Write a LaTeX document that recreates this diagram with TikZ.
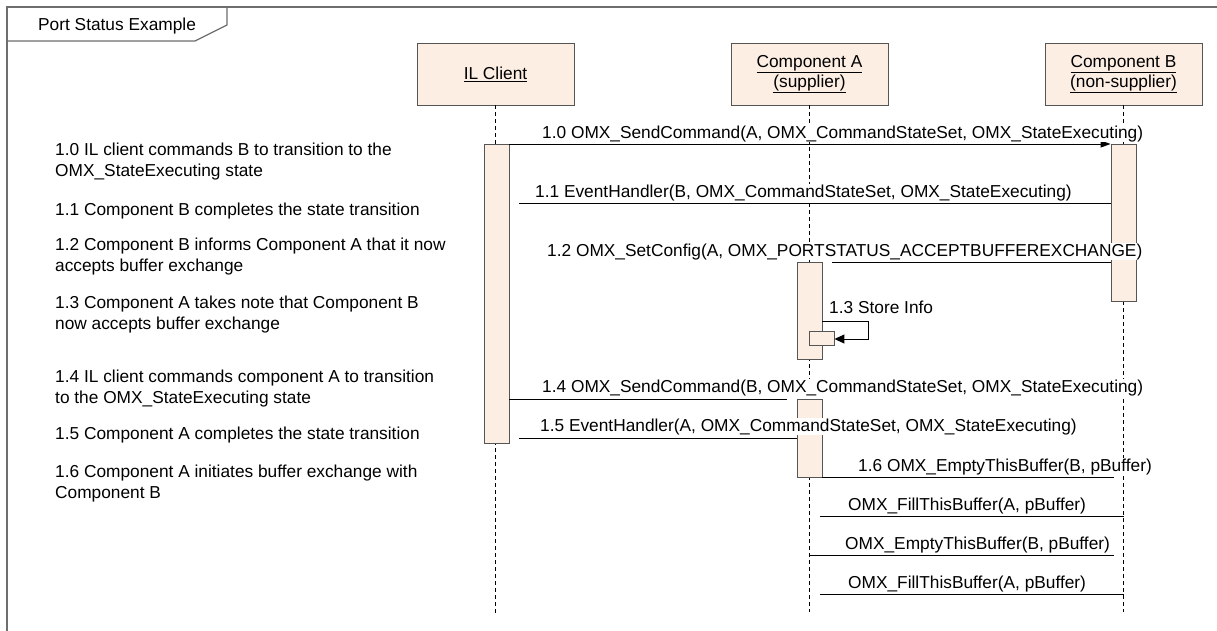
\documentclass[tikz,border=0pt]{standalone}
\usepackage{fontspec}
\setmainfont{Liberation Sans}
\usetikzlibrary{arrows.meta}
\definecolor{peach}{RGB}{253,238,228}
\definecolor{edgegray}{RGB}{85,85,85}
\definecolor{framegray}{RGB}{110,110,110}
\begin{document}
\begin{tikzpicture}[x=1pt,y=-1pt,
  every node/.style={font=\fontsize{17.3}{20.5}\selectfont, inner sep=0pt},
  headbox/.style={draw=edgegray, line width=0.9pt, fill=peach, minimum width=157pt, minimum height=62pt, align=center},
  actbox/.style={draw=edgegray, line width=0.9pt, fill=peach, minimum width=25pt},
  lifeline/.style={draw=black, line width=0.6pt, dash pattern=on 4pt off 3pt},
  msgline/.style={draw=black, line width=1pt, shorten >=10pt},
  msglabel/.style={anchor=base west, fill=white},
  notetext/.style={anchor=base west, align=left},
]
\useasboundingbox (0,0) rectangle (1217,630);
\clip (0,0) rectangle (1217,630);
\fill[white] (0,0) rectangle (1217,630);

% frame
\draw[framegray, line width=1.2pt] (7,7) rectangle (1240,660);
\draw[framegray, line width=1.2pt] (7,41) -- (195,41) -- (227,25) -- (227,7);
\node[anchor=base west] (title) at (38,30) {Port Status Example};

% heads
\node[headbox] (ilhead) at (495.5,74) {\underline{IL Client}};
\node[headbox] (ahead) at (809.5,74) {\underline{Component A}\\\underline{(supplier)}};
\node[headbox] (bhead) at (1123.5,74) {\underline{Component B}\\\underline{(non-supplier)}};

% lifelines
\coordinate (ilend) at (495.5,613);
\coordinate (aend) at (809.5,612);
\coordinate (bend) at (1123.5,612);
\draw[lifeline] (ilhead.south) -- (ilend);
\draw[lifeline] (ahead.south) -- (aend);
\draw[lifeline] (bhead.south) -- (bend);

% activations
\node[actbox, minimum height=299pt] (ilact) at (496.5,293.5) {};
\node[actbox, minimum height=157pt] (bact) at (1123.5,222.5) {};
\node[actbox, minimum height=97pt] (aact1) at (809.5,310.5) {};
\node[actbox, minimum height=78pt] (aact2) at (809.5,438) {};
\node[actbox, minimum height=14pt] (anest) at (821.5,338) {};

% messages
\draw[black, line width=1pt, -{Triangle[length=10pt,width=7pt]}] (ilact.east |- 0,144) -- (bact.west |- 0,144);
\draw[msgline] (bact.west |- 0,203) -- (ilact.east |- 0,203);
\draw[msgline] (bact.west |- 0,262) -- (aact1.east |- 0,262);
\draw[black, line width=1pt, -{Triangle[length=10pt,width=9pt]}] (aact1.east |- 0,321) -- ++(46,0) -- ++(0,18) -- (anest.east |- 0,339);
\draw[msgline] (ilact.east |- 0,399) -- (aact2.west |- 0,399);
\draw[msgline] (aact2.west |- 0,438) -- (ilact.east |- 0,438);
\draw[msgline] (aact2.east |- 0,477) -- (bend |- 0,477);
\draw[msgline] (bend |- 0,516) -- (aend |- 0,516);
\draw[msgline] (aend |- 0,555) -- (bend |- 0,555);
\draw[msgline] (bend |- 0,594) -- (aend |- 0,594);

% message labels
\node[msglabel] (l10) at (542,138) {1.0 OMX\_SendCommand(A, OMX\_CommandStateSet, OMX\_StateExecuting)};
\node[msglabel] (l11) at (535,197) {1.1 EventHandler(B, OMX\_CommandStateSet, OMX\_StateExecuting)};
\node[msglabel] (l12) at (547,256) {1.2 OMX\_SetConfig(A, OMX\_PORTSTATUS\_ACCEPTBUFFEREXCHANGE)};
\node[msglabel] (l13) at (829,313) {1.3 Store Info};
\node[msglabel] (l14) at (542,392) {1.4 OMX\_SendCommand(B, OMX\_CommandStateSet, OMX\_StateExecuting)};
\node[msglabel] (l15) at (540,431) {1.5 EventHandler(A, OMX\_CommandStateSet, OMX\_StateExecuting)};
\node[msglabel] (l16) at (858,471) {1.6 OMX\_EmptyThisBuffer(B, pBuffer)};
\node[msglabel] (l17) at (848,510) {OMX\_FillThisBuffer(A, pBuffer)};
\node[msglabel] (l18) at (845,549) {OMX\_EmptyThisBuffer(B, pBuffer)};
\node[msglabel] (l19) at (848,588) {OMX\_FillThisBuffer(A, pBuffer)};

% notes (base anchor = baseline of the last line)
\node[notetext] (n10) at (55,176) {1.0 IL client commands B to transition to the\\OMX\_StateExecuting state};
\node[notetext] (n11) at (55,215) {1.1 Component B completes the state transition};
\node[notetext] (n12) at (55,271) {1.2 Component B informs Component A that it now\\accepts buffer exchange};
\node[notetext] (n13) at (55,329) {1.3 Component A takes note that Component B\\now accepts buffer exchange};
\node[notetext] (n14) at (55,403) {1.4 IL client commands component A to transition\\to the OMX\_StateExecuting state};
\node[notetext] (n15) at (55,439) {1.5 Component A completes the state transition};
\node[notetext] (n16) at (55,498) {1.6 Component A initiates buffer exchange with\\Component B};
\end{tikzpicture}
\end{document}
